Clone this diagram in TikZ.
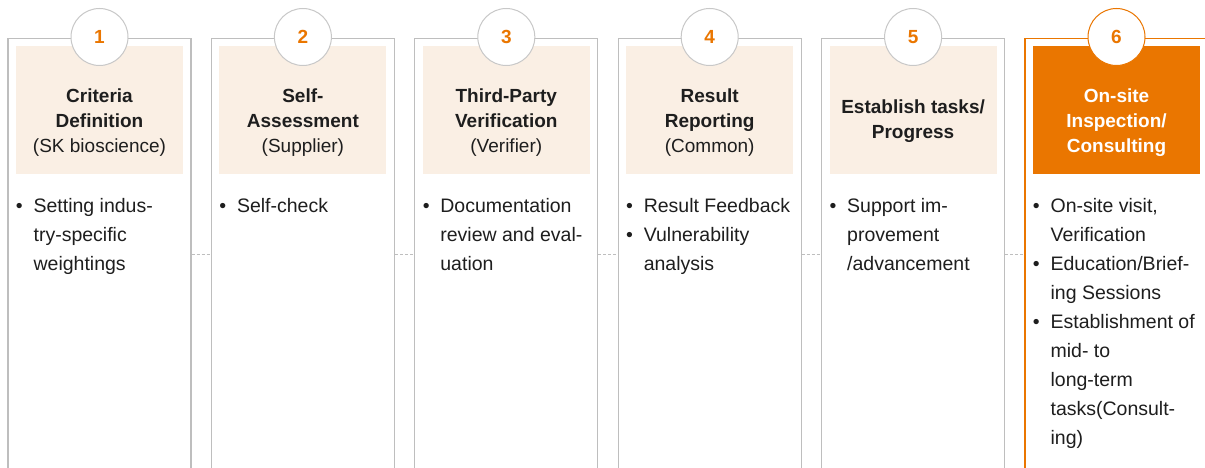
\documentclass[tikz,border=0pt]{standalone}
\usepackage{fontspec}
\setmainfont{Liberation Sans}
\newcommand{\liste}[1]{\parbox[t]{178pt}{\raggedright #1}}
\begin{document}
\begin{tikzpicture}[x=1pt,y=-1pt,
cadre/.style={draw=gris,line width=1.2pt,minimum width=183pt,minimum height=440pt,anchor=north,inner sep=0pt},
fond/.style={fill=beige,minimum width=167pt,minimum height=128pt,anchor=north,inner sep=0pt},
num/.style={circle,draw=rond,line width=1pt,fill=white,minimum size=57pt,inner sep=0pt,text=orange,font=\fontsize{19pt}{19pt}\selectfont\bfseries},
titre/.style={align=center,text=texte,font=\fontsize{19pt}{25pt}\selectfont\bfseries},
puce/.style={anchor=base,inner sep=0pt,text=texte,font=\fontsize{19.5pt}{29pt}\selectfont},
item/.style={anchor=base west,inner sep=0pt,text=texte,font=\fontsize{19.5pt}{29pt}\selectfont},
tiret/.style={draw=gris,line width=0.8pt,dash pattern=on 3pt off 2pt}]
\definecolor{gris}{RGB}{190,190,190}
\definecolor{rond}{RGB}{200,200,200}
\definecolor{beige}{RGB}{250,239,228}
\definecolor{orange}{RGB}{234,118,0}
\definecolor{texte}{RGB}{30,30,30}
\useasboundingbox (0,0) rectangle (1205,468);
\fill[white] (0,0) rectangle (1205,468);
% colonnes
\node[cadre] (f1) at (99.5,38) {};
\node[cadre] (f2) at (302.9,38) {};
\node[cadre] (f3) at (506.3,38) {};
\node[cadre] (f4) at (709.7,38) {};
\node[cadre] (f5) at (913.1,38) {};
\node[cadre,draw=orange] (f6) at (1116.5,38) {};
\node[fond] (b1) at (99.5,46) {};
\node[fond] (b2) at (302.9,46) {};
\node[fond] (b3) at (506.3,46) {};
\node[fond] (b4) at (709.7,46) {};
\node[fond] (b5) at (913.1,46) {};
\node[fond,fill=orange] (b6) at (1116.5,46) {};
\node[num] (n1) at (99.5,37) {1};
\node[num] (n2) at (302.9,37) {2};
\node[num] (n3) at (506.3,37) {3};
\node[num] (n4) at (709.7,37) {4};
\node[num] (n5) at (913.1,37) {5};
\node[num,draw=orange] (n6) at (1116.5,37) {6};
% titres
\node[titre] (h1) at ([yshift=-12.5pt]b1.center) {Criteria\\Definition\\{\mdseries (SK bioscience)}};
\node[titre] (h2) at ([yshift=-12.5pt]b2.center) {Self-\\Assessment\\{\mdseries (Supplier)}};
\node[titre] (h3) at ([yshift=-12.5pt]b3.center) {Third-Party\\Verification\\{\mdseries (Verifier)}};
\node[titre] (h4) at ([yshift=-12.5pt]b4.center) {Result\\Reporting\\{\mdseries (Common)}};
\node[titre] (h5) at ([yshift=-11pt]b5.center) {Establish tasks/\\Progress};
\node[titre,text=white] (h6) at ([yshift=-12.5pt]b6.center) {On-site\\Inspection/\\Consulting};
% listes
\node[puce] (p1a) at ([xshift=12pt,yshift=-174pt]f1.north west) {\textbullet};
\node[item] (i1a) at ([xshift=26pt,yshift=-174pt]f1.north west) {\liste{Setting indus-\\try-specific\\weightings}};
\node[puce] (p2a) at ([xshift=12pt,yshift=-174pt]f2.north west) {\textbullet};
\node[item] (i2a) at ([xshift=26pt,yshift=-174pt]f2.north west) {\liste{Self-check}};
\node[puce] (p3a) at ([xshift=12pt,yshift=-174pt]f3.north west) {\textbullet};
\node[item] (i3a) at ([xshift=26pt,yshift=-174pt]f3.north west) {\liste{Documentation\\review and eval-\\uation}};
\node[puce] (p4a) at ([xshift=12pt,yshift=-174pt]f4.north west) {\textbullet};
\node[item] (i4a) at ([xshift=26pt,yshift=-174pt]f4.north west) {\liste{Result Feedback}};
\node[puce] (p4b) at ([xshift=12pt,yshift=-203pt]f4.north west) {\textbullet};
\node[item] (i4b) at ([xshift=26pt,yshift=-203pt]f4.north west) {\liste{Vulnerability\\analysis}};
\node[puce] (p5a) at ([xshift=12pt,yshift=-174pt]f5.north west) {\textbullet};
\node[item] (i5a) at ([xshift=26pt,yshift=-174pt]f5.north west) {\liste{Support im-\\provement\\/advancement}};
\node[puce] (p6a) at ([xshift=12pt,yshift=-174pt]f6.north west) {\textbullet};
\node[item] (i6a) at ([xshift=26pt,yshift=-174pt]f6.north west) {\liste{On-site visit,\\Verification}};
\node[puce] (p6b) at ([xshift=12pt,yshift=-232pt]f6.north west) {\textbullet};
\node[item] (i6b) at ([xshift=26pt,yshift=-232pt]f6.north west) {\liste{Education/Brief-\\ing Sessions}};
\node[puce] (p6c) at ([xshift=12pt,yshift=-290pt]f6.north west) {\textbullet};
\node[item] (i6c) at ([xshift=26pt,yshift=-290pt]f6.north west) {\liste{Establishment of\\mid- to\\long-term\\tasks(Consult-\\ing)}};
% liaisons
\draw[tiret] ([yshift=-216pt]f1.north east) -- ([yshift=-216pt]f2.north west);
\draw[tiret] ([yshift=-216pt]f2.north east) -- ([yshift=-216pt]f3.north west);
\draw[tiret] ([yshift=-216pt]f3.north east) -- ([yshift=-216pt]f4.north west);
\draw[tiret] ([yshift=-216pt]f4.north east) -- ([yshift=-216pt]f5.north west);
\draw[tiret] ([yshift=-216pt]f5.north east) -- ([yshift=-216pt]f6.north west);
\end{tikzpicture}
\end{document}
